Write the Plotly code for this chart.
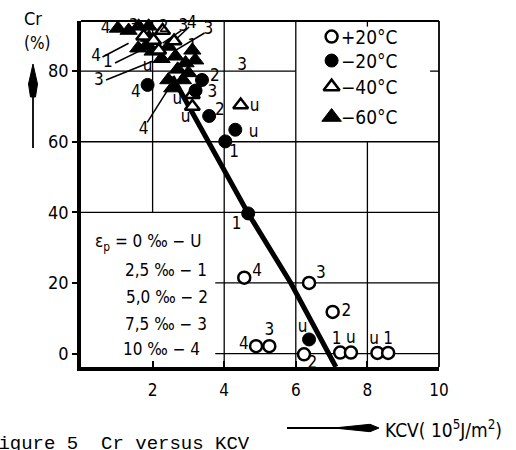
import plotly.graph_objects as go

# ---------------- data ----------------
# +20 °C  (open circles)
p20_x = [4.56, 6.37, 7.03, 4.89, 5.26, 6.23, 7.24, 7.54, 8.28, 8.58]
p20_y = [21.5, 20.0, 11.8, 2.1, 2.1, -0.2, 0.3, 0.3, 0.2, 0.2]
# -20 °C  (filled circles)
m20_x = [1.86, 3.38, 3.20, 3.58, 4.31, 4.03, 4.67, 6.37]
m20_y = [76.1, 77.5, 74.5, 67.3, 63.4, 60.1, 39.7, 4.0]
# -40 °C  (open triangles)
m40_x = [1.75, 2.03, 2.17, 2.28, 2.60, 3.11, 3.11, 4.46]
m40_y = [89.9, 88.7, 85.9, 91.5, 88.5, 73.3, 70.0, 70.4]
# -60 °C  (filled triangles)
m60_x = [1.03, 1.33, 1.61, 1.89, 1.81, 2.00, 2.44, 2.64, 2.92, 3.19, 3.11, 2.55,
         2.44, 1.60, 1.90, 2.25, 2.70, 2.85, 3.00]
m60_y = [92.1, 91.5, 92.7, 92.7, 87.0, 85.6, 87.0, 84.2, 82.3, 83.1, 85.9, 75.2,
         77.5, 86.5, 89.5, 83.5, 80.5, 77.5, 79.5]

# trend line
trend_x = [2.55, 3.47, 4.67, 5.86, 6.93, 7.12]
trend_y = [78.5, 61.7, 39.7, 20.0, 0.0, -3.8]

# strain labels next to points
lab_text = ["4", "3", "2", "3", "4", "3", "1", "4", "1", "3", "u", "3", "2", "3",
            "u", "u", "2", "4", "4", "u", "u", "1", "1", "4", "3", "2", "4", "3",
            "u", "2", "1", "u", "u", "1"]
lab_x = [0.69, 1.47, 2.31, 2.86, 3.10, 3.56, 3.11, 0.42, 0.75, 0.50, 1.86, 4.50,
         3.74, 3.67, 2.69, 2.92, 3.88, 1.53, 1.75, 4.85, 4.82, 4.28, 4.35, 4.92,
         6.70, 7.41, 4.55, 5.26, 6.19, 6.46, 7.14, 7.54, 8.19, 8.58]
lab_y = [92.1, 92.6, 92.3, 92.6, 93.3, 91.8, 87.0, 84.2, 82.3, 77.2, 81.2, 81.5,
         78.5, 74.0, 71.9, 66.7, 68.7, 73.8, 63.4, 70.0, 62.6, 57.0, 36.6, 23.3,
         22.5, 11.8, 2.4, 6.6, 7.4, -3.0, 4.0, 4.1, 3.9, 4.0]

# leader lines (start at label, end at point)
lead_x0 = [0.60, 0.95, 0.70, 2.80, 3.02, 3.45, 1.85]
lead_y0 = [84.0, 82.3, 77.5, 91.5, 92.5, 90.8, 65.5]
lead_x1 = [1.33, 1.67, 2.00, 2.28, 2.44, 2.64, 2.42]
lead_y1 = [87.9, 85.9, 82.8, 87.9, 87.0, 85.9, 74.6]

legend_labels = ["+20°C", "\u221220°C", "\u221240°C", "\u221260°C"]
strain_lines = ["\u03b5<sub>p</sub> = 0 \u2030 \u2212 U", "2,5 \u2030 \u2212 1",
                "5,0 \u2030 \u2212 2", "7,5 \u2030 \u2212 3", "10 \u2030 \u2212 4"]

x_ticks = [2, 4, 6, 8, 10]
y_ticks = [0, 20, 40, 60, 80]

# ---------------- layout geometry ----------------
W, H = 516, 450
L, R, T, B = 81, 439, 21, 367
XR = [0, 10]
YR = [-3.8, 94.2]
FONT = "DejaVu Sans Condensed, Liberation Sans Narrow, DejaVu Sans, sans-serif"


def pxx(x):
    return (x - L) / (R - L)


def pxy(y):
    return (B - y) / (B - T)


fig = go.Figure()

open_marker = lambda sym, s: dict(symbol=sym, size=s, color="white",
                                   line=dict(color="black", width=2.5))
fill_marker = lambda sym, s: dict(symbol=sym, size=s, color="black",
                                   line=dict(color="black", width=1))

# partial grid (drawn first, under the marks)
h_grid = [(80, 0, 6), (60, 0, 10), (40, 0, 10), (20, 3.75, 10), (0, 3.75, 10),
          (80, 9.75, 10)]
v_grid = [(2, 40, YR[1]), (4, YR[0], YR[1]), (6, YR[0], YR[1]), (8, YR[0], 60),
          (8, 92.6, YR[1])]
gx, gy = [], []
for y, x0, x1 in h_grid:
    gx += [x0, x1, None]
    gy += [y, y, None]
for x, y0, y1 in v_grid:
    gx += [x, x, None]
    gy += [y0, y1, None]
fig.add_trace(go.Scatter(x=gx, y=gy, mode="lines", line=dict(color="black", width=1.3),
                         showlegend=False, hoverinfo="skip"))

fig.add_trace(go.Scatter(x=trend_x, y=trend_y, mode="lines",
                         line=dict(color="black", width=5), showlegend=False))

lx, ly = [], []
for a, b, c, d in zip(lead_x0, lead_y0, lead_x1, lead_y1):
    lx += [a, c, None]
    ly += [b, d, None]
fig.add_trace(go.Scatter(x=lx, y=ly, mode="lines",
                         line=dict(color="black", width=1.5), showlegend=False))

fig.add_trace(go.Scatter(x=m60_x, y=m60_y, mode="markers",
                         marker=fill_marker("triangle-up", 15), showlegend=False,
                         cliponaxis=False))
fig.add_trace(go.Scatter(x=m40_x, y=m40_y, mode="markers",
                         marker=open_marker("triangle-up", 13), showlegend=False,
                         cliponaxis=False))
fig.add_trace(go.Scatter(x=m20_x, y=m20_y, mode="markers",
                         marker=fill_marker("circle", 13), showlegend=False,
                         cliponaxis=False))
fig.add_trace(go.Scatter(x=p20_x, y=p20_y, mode="markers",
                         marker=open_marker("circle", 12), showlegend=False,
                         cliponaxis=False))

fig.add_trace(go.Scatter(x=lab_x, y=lab_y, mode="text", text=lab_text,
                         textfont=dict(family=FONT, size=17, color="black"),
                         showlegend=False, cliponaxis=False))

# custom legend (top right)
leg_y = [89.8, 83.0, 75.6, 67.0]
leg_markers = [open_marker("circle", 12), fill_marker("circle", 13),
               open_marker("triangle-up", 14), fill_marker("triangle-up", 17)]
for yy, mk, txt in zip(leg_y, leg_markers, legend_labels):
    fig.add_trace(go.Scatter(x=[7.0], y=[yy], mode="markers", marker=mk,
                             showlegend=False))
    fig.add_annotation(x=7.22, y=yy, text=txt, showarrow=False, xanchor="left",
                       yanchor="middle", font=dict(family=FONT, size=19, color="black"))

# strain legend (lower left)
strain_x = [0.34, 1.18, 1.2, 1.18, 1.13]
strain_y = [31.5, 23.8, 16.0, 8.5, 1.3]
for sx, sy, txt in zip(strain_x, strain_y, strain_lines):
    fig.add_annotation(x=sx, y=sy, text=txt, showarrow=False, xanchor="left",
                       yanchor="middle", font=dict(family=FONT, size=17, color="black"))

shapes = []
# top & right frame
shapes.append(dict(type="line", xref="paper", yref="paper", x0=0, x1=1, y0=1, y1=1,
                   line=dict(color="black", width=2)))
shapes.append(dict(type="line", xref="paper", yref="paper", x0=1, x1=1, y0=0, y1=1,
                   line=dict(color="black", width=1.8)))
# y arrow
shapes.append(dict(type="line", xref="paper", yref="paper", x0=pxx(33), x1=pxx(33),
                   y0=pxy(148), y1=pxy(92), line=dict(color="black", width=1.8)))
shapes.append(dict(type="path", xref="paper", yref="paper",
                   path="M {:.4f},{:.4f} L {:.4f},{:.4f} L {:.4f},{:.4f} L {:.4f},{:.4f} L {:.4f},{:.4f} Z".format(
                       pxx(33), pxy(64), pxx(37.5), pxy(84), pxx(35.5), pxy(97),
                       pxx(30.5), pxy(97), pxx(28.5), pxy(84)),
                   fillcolor="black", line=dict(color="black", width=1)))
# x arrow
shapes.append(dict(type="line", xref="paper", yref="paper", x0=pxx(287), x1=pxx(345),
                   y0=pxy(428), y1=pxy(428), line=dict(color="black", width=1.8)))
shapes.append(dict(type="path", xref="paper", yref="paper",
                   path="M {:.4f},{:.4f} L {:.4f},{:.4f} L {:.4f},{:.4f} L {:.4f},{:.4f} Z".format(
                       pxx(334), pxy(428), pxx(370), pxy(424.3), pxx(379), pxy(428),
                       pxx(370), pxy(431.7)),
                   fillcolor="black", line=dict(color="black", width=1)))

annotations = [
    dict(x=pxx(33), y=pxy(18), xref="paper", yref="paper", text="Cr", showarrow=False,
         xanchor="center", yanchor="middle", font=dict(family=FONT, size=18, color="black")),
    dict(x=pxx(37), y=pxy(43), xref="paper", yref="paper", text="(%)", showarrow=False,
         xanchor="center", yanchor="middle", font=dict(family=FONT, size=17, color="black")),
    dict(x=pxx(383), y=pxy(429), xref="paper", yref="paper",
         text="KCV( 10<sup>5</sup>J/m<sup>2</sup>)", showarrow=False,
         xanchor="left", yanchor="middle", font=dict(family=FONT, size=19, color="black")),
    dict(x=pxx(-15), y=pxy(444), xref="paper", yref="paper",
         text="Figure 5&nbsp;&nbsp;Cr versus KCV", showarrow=False,
         xanchor="left", yanchor="middle",
         font=dict(family="Liberation Mono, DejaVu Sans Mono, monospace", size=19,
                   color="black")),
]

fig.update_layout(
    width=W, height=H,
    margin=dict(l=L, r=W - R, t=T, b=H - B, pad=0),
    paper_bgcolor="white", plot_bgcolor="white",
    showlegend=False,
    shapes=shapes,
    annotations=list(fig.layout.annotations) + annotations,
    xaxis=dict(range=XR, tickvals=x_ticks, ticktext=[str(v) for v in x_ticks],
               showgrid=False, zeroline=False, showline=True, linewidth=3.5,
               linecolor="black", ticks="inside", ticklen=6, tickwidth=1.5,
               tickcolor="black", ticklabelstandoff=5,
               tickfont=dict(family=FONT, size=17, color="black")),
    yaxis=dict(range=YR, tickvals=y_ticks, ticktext=[str(v) for v in y_ticks],
               showgrid=False, zeroline=False, showline=True, linewidth=3.5,
               linecolor="black", ticks="outside", ticklen=5, tickwidth=1.5,
               tickcolor="black",
               tickfont=dict(family=FONT, size=18, color="black")),
)

fig.write_html("out.html")
